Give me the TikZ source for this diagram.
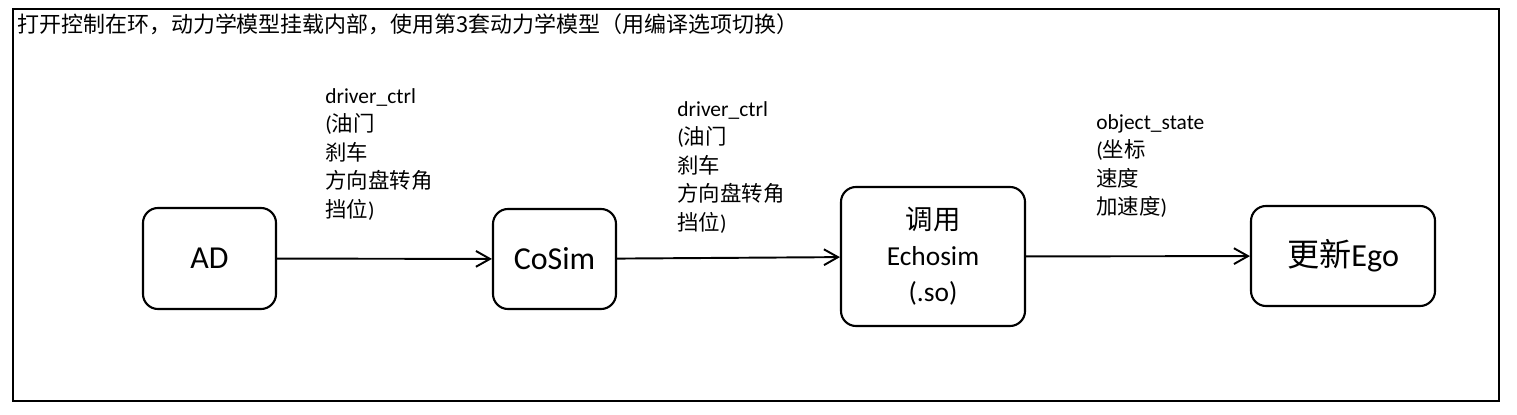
\documentclass[tikz,border=0pt]{standalone}
\usepackage{fontspec}
\usepackage{tikz}
\usetikzlibrary{positioning,arrows.meta}
\setmainfont{Carlito}
\newfontfamily\cjk{Noto Sans CJK SC}

\tikzset{
  block/.style={draw, line width=1.2pt, rounded corners=0.3cm, inner sep=0pt},
  flow/.style={line width=1.1pt, -{Straight Barb[length=8pt,width=9pt,line width=1.1pt]}},
  note/.style={anchor=north west, align=left, inner sep=0pt, font=\fontsize{12.2}{16.2}\selectfont}
}

\begin{document}
\begin{tikzpicture}[x=0.02cm, y=-0.02cm]
  \useasboundingbox (0,0) rectangle (1517,415);

  % Frame and title
  \draw[line width=0.6pt] (13,9) rectangle (1499,401);
  \node[anchor=north west, inner sep=0pt, font=\cjk\fontsize{12.5}{14}\selectfont] (title) at (17,13)
    {打开控制在环，动力学模型挂载内部，使用第3套动力学模型（用编译选项切换）};

  % Blocks
  \node[block, minimum width=133*0.02cm, minimum height=101*0.02cm, font=\fontsize{18.2}{20}\selectfont] (ad) at (209.5,258.5) {AD};
  \node[block, minimum width=123*0.02cm, minimum height=100*0.02cm, font=\fontsize{18.2}{20}\selectfont] (cosim) at (554.5,259) {CoSim};
  \node[block, minimum width=184*0.02cm, minimum height=139*0.02cm, align=center, font=\fontsize{15.6}{20.5}\selectfont] (echosim) at (933,256.5) {{\cjk 调用}\\Echosim\\(.so)};
  \node[block, minimum width=184*0.02cm, minimum height=100*0.02cm, font=\fontsize{18.3}{20}\selectfont] (ego) at (1343,256) {{\cjk 更新}Ego};

  % Connectors
  \draw[flow] (ad) -- (cosim);
  \draw[flow] (cosim) -- (echosim);
  \draw[flow] (echosim) -- (ego);

  % Labels
  \node[note] (ctrlA) at (325,88) {driver\_ctrl\\({\cjk 油门}\\{\cjk 刹车}\\{\cjk 方向盘转角}\\{\cjk 挡位})};
  \node[note] (ctrlB) at (677,101) {driver\_ctrl\\({\cjk 油门}\\{\cjk 刹车}\\{\cjk 方向盘转角}\\{\cjk 挡位})};
  \node[note] (state) at (1096,114) {object\_state\\({\cjk 坐标}\\{\cjk 速度}\\{\cjk 加速度})};
\end{tikzpicture}
\end{document}
